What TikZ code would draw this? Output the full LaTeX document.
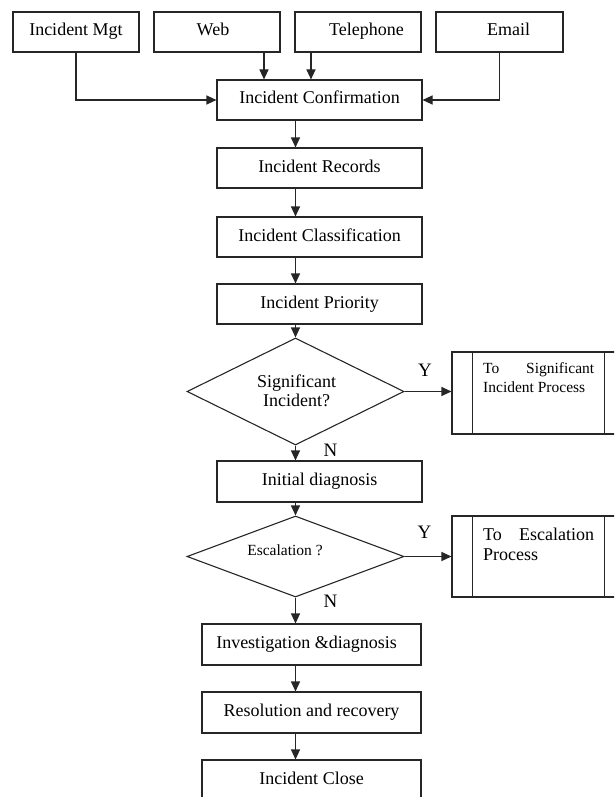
\documentclass[tikz,border=0pt]{standalone}
\usepackage{fontspec}
\setmainfont{Liberation Serif}
\usetikzlibrary{arrows.meta,shapes.geometric}
\begin{document}
\begin{tikzpicture}[x=1pt,y=-1pt,
  box/.style={draw=black!85, line width=1.1pt, rectangle, minimum height=40pt, inner sep=0pt,
              text height=12pt, text depth=4pt, font=\fontsize{18}{21}\selectfont},
  dec/.style={draw=black!85, line width=1.1pt, diamond, inner sep=0pt},
  proc/.style={draw=black!85, line width=1.1pt, rectangle, inner sep=0pt},
  ln/.style={draw=black!85, line width=1.1pt},
  arr/.style={draw=black!85, line width=1.1pt, -{Triangle[length=10pt,width=9pt]}},
  lbl/.style={font=\fontsize{19}{21}\selectfont, inner sep=0pt, anchor=base},
  ]
\useasboundingbox (0,0) rectangle (614,797);
\clip (0,0) rectangle (614,797);

% top sources
\node[box, minimum width=126pt] (mgt) at (76,32) {Incident Mgt};
\node[box, minimum width=126pt] (web) at (217,32) {Web\hspace*{8pt}};
\node[box, minimum width=126pt] (tel) at (358,32) {\hspace*{17pt}Telephone};
\node[box, minimum width=127pt] (email) at (499.5,32) {\hspace*{18pt}Email};

% main column
\node[box, minimum width=205pt] (conf) at (319.5,100) {Incident Confirmation};
\node[box, minimum width=205pt] (rec) at (319.5,168) {Incident Records};
\node[box, minimum width=205pt] (cls) at (319.5,237) {Incident Classification};
\node[box, minimum width=205pt] (pri) at (319.5,304) {Incident Priority};

\node[dec, minimum width=217pt, minimum height=107pt] (d1) at (295.5,391.5) {};
\node[font=\fontsize{18}{19.5}\selectfont, align=center, inner sep=0pt] (d1t) at (296.5,390.6) {Significant\\Incident?};

\node[box, minimum width=205pt, minimum height=41pt] (diag) at (319.5,481.5) {Initial diagnosis};

\node[dec, minimum width=217pt, minimum height=81pt] (d2) at (295.5,556.5) {};
\node[font=\fontsize{15.5}{18}\selectfont, inner sep=0pt, anchor=base] (d2t) at (285,555) {Escalation ?};

\node[box, minimum width=219pt, minimum height=41pt] (inv) at (311.5,644.5) {Investigation \&diagnosis\hspace*{10pt}};
\node[box, minimum width=219pt, minimum height=41pt] (res) at (311.5,712.5) {Resolution and recovery};
\node[box, minimum width=219pt, minimum height=41pt] (close) at (311.5,780.5) {Incident Close};

% predefined processes
\node[proc, minimum width=173pt, minimum height=82pt] (p1) at (538.5,393) {};
\draw[ln] ([xshift=21pt]p1.north west) -- ([xshift=21pt]p1.south west);
\draw[ln] ([xshift=-21pt]p1.north east) -- ([xshift=-21pt]p1.south east);
\node[font=\fontsize{15.5}{19}\selectfont, align=left, anchor=north west, inner sep=0pt] (p1t) at (483,362.4)
  {\makebox[111pt][s]{To\hfill Significant}\\Incident Process};

\node[proc, minimum width=173pt, minimum height=81pt] (p2) at (538.5,556.5) {};
\draw[ln] ([xshift=21pt]p2.north west) -- ([xshift=21pt]p2.south west);
\draw[ln] ([xshift=-21pt]p2.north east) -- ([xshift=-21pt]p2.south east);
\node[font=\fontsize{18}{20}\selectfont, align=left, anchor=north west, inner sep=0pt] (p2t) at (483,527.7)
  {\makebox[111pt][s]{To\hfill Escalation}\\Process};

% labels
\node[lbl] (y1) at (425,376) {Y};
\node[lbl] (n1) at (330.5,456) {N};
\node[lbl] (y2) at (424.5,538) {Y};
\node[lbl] (n2) at (330.5,607) {N};

% connectors
\draw[arr] (mgt.south) |- (conf.west);
\draw[arr] ([xshift=47pt]web.south) -- ([xshift=47pt]web.south |- conf.north);
\draw[arr] ([xshift=-47pt]tel.south) -- ([xshift=-47pt]tel.south |- conf.north);
\draw[arr] (email.south) |- (conf.east);

\draw[arr] (conf.south -| d1.north) -- (rec.north -| d1.north);
\draw[arr] (rec.south -| d1.north) -- (cls.north -| d1.north);
\draw[arr] (cls.south -| d1.north) -- (pri.north -| d1.north);
\draw[arr] (pri.south -| d1.north) -- (d1.north);
\draw[arr] (d1.south) -- (diag.north -| d1.south);
\draw[arr] (d1.east) -- (d1.east -| p1.west);
\draw[arr] (diag.south -| d2.north) -- (d2.north);
\draw[arr] (d2.east) -- (d2.east -| p2.west);
\draw[arr] (d2.south) -- (inv.north -| d2.south);
\draw[arr] (inv.south -| d2.south) -- (res.north -| d2.south);
\draw[arr] (res.south -| d2.south) -- (close.north -| d2.south);
\end{tikzpicture}
\end{document}
